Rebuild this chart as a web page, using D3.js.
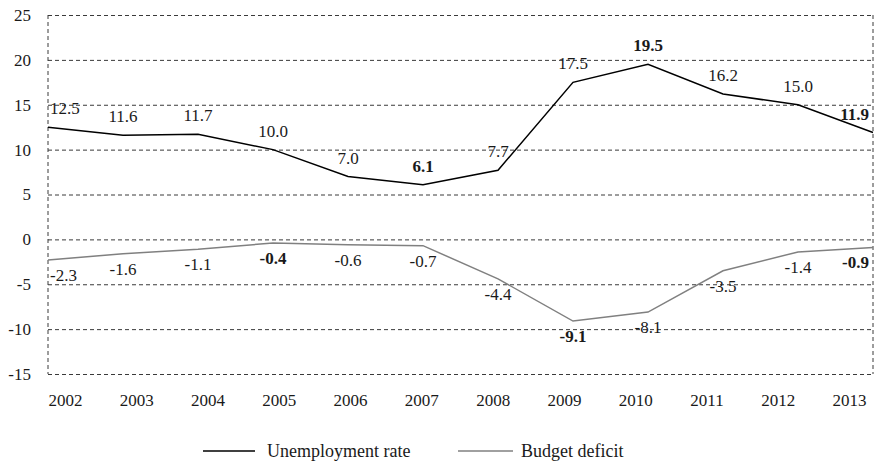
<!DOCTYPE html>
<html><head><meta charset="utf-8">
<script src="https://cdn.jsdelivr.net/npm/d3@7"></script>
<style>
html,body{margin:0;padding:0;background:#fff;}
svg text{font-family:"Liberation Serif","Times New Roman","DejaVu Serif",serif !important;}
</style></head>
<body><svg id="c" width="874" height="466" font-family="Liberation Serif, Times New Roman, serif"></svg>
<script>
const years = ["2002","2003","2004","2005","2006","2007","2008","2009","2010","2011","2012","2013"];
const unemployment = [12.5,11.6,11.7,10.0,7.0,6.1,7.7,17.5,19.5,16.2,15.0,11.9];
const deficit = [-2.3,-1.6,-1.1,-0.4,-0.6,-0.7,-4.4,-9.1,-8.1,-3.5,-1.4,-0.9];
const yTicks = [25,20,15,10,5,0,-5,-10,-15];
const seriesNames = ["Unemployment rate","Budget deficit"];

const FONT = "Liberation Serif";
const loc = d3.formatLocale({decimal: ".", thousands: ",", grouping: [3], currency: ["", ""], minus: "-"});
const f1 = loc.format(".1f"), fd = loc.format("d");

const svg = d3.select("#c");
const L = 48, R = 873, T = 15, B = 374;
const x = d3.scalePoint().domain(years).range([L, R]);
const xLab = d3.scalePoint().domain(years).range([65, 849]);
const y = d3.scaleLinear().domain([-15, 25]).range([B, T]);

const grid = "#3a3a3a";
const gy = d3.axisLeft(y).tickValues(yTicks).tickSize(-(R - L)).tickFormat("");
const gg = svg.append("g").attr("transform", `translate(${L},0)`).call(gy);
gg.select(".domain").remove();
gg.selectAll("line").attr("stroke", grid).attr("stroke-dasharray", "4,3").attr("stroke-width", 1);
[L, R].forEach(v => svg.append("line").attr("x1", v).attr("x2", v).attr("y1", T).attr("y2", B)
  .attr("stroke", grid).attr("stroke-dasharray", "4,3").attr("stroke-width", 1));

const ya = svg.append("g").attr("transform", `translate(31,0)`)
  .call(d3.axisLeft(y).tickValues(yTicks).tickSize(0).tickPadding(0).tickFormat(fd));
ya.attr("font-family", FONT);
ya.select(".domain").remove();
ya.selectAll("text").attr("font-size", 17).attr("fill", "#1a1a1a").attr("font-family", FONT);

const xa = svg.append("g").attr("transform", `translate(0,${B})`)
  .call(d3.axisBottom(xLab).tickSize(0).tickPadding(20));
xa.attr("font-family", FONT);
xa.select(".domain").remove();
xa.selectAll("text").attr("font-size", 17).attr("fill", "#1a1a1a").attr("font-family", FONT);

const line = d3.line().x((d, i) => x(years[i])).y(d => y(d));
const series = [
  {vals: unemployment, color: "#000000", dy: -13},
  {vals: deficit, color: "#808080", dy: 21}
];
series.forEach(s => {
  svg.append("path").datum(s.vals).attr("d", line).attr("fill", "none")
    .attr("stroke", s.color).attr("stroke-width", 1.5);
});
series.forEach(s => {
  const mx = d3.max(s.vals), mn = d3.min(s.vals);
  s.vals.forEach((v, i) => {
    const bold = (v === mx || v === mn || i === s.vals.length - 1);
    const t = svg.append("text").text(f1(v))
      .attr("x", x(years[i])).attr("y", y(v) + s.dy)
      .attr("text-anchor", "middle").attr("font-size", 17).attr("font-family", FONT)
      .attr("font-weight", bold ? "bold" : "normal").attr("fill", "#1a1a1a");
    const w = t.node().getComputedTextLength();
    let cx = x(years[i]);
    if (cx - w / 2 < L + 2) cx = L + 2 + w / 2;
    if (cx + w / 2 > R - 4) cx = R - 4 - w / 2;
    t.attr("x", cx);
  });
});

const lg = svg.append("g");
const legendItems = [
  {name: seriesNames[0], color: "#000000", x0: 203, x1: 255, tx: 267},
  {name: seriesNames[1], color: "#808080", x0: 458, x1: 513, tx: 521}
];
legendItems.forEach(it => {
  lg.append("line").attr("x1", it.x0).attr("x2", it.x1).attr("y1", 451).attr("y2", 451)
    .attr("stroke", it.color).attr("stroke-width", 1.5);
  lg.append("text").attr("x", it.tx).attr("y", 457).text(it.name)
    .attr("font-size", 18).attr("font-family", FONT).attr("fill", "#1a1a1a");
});
</script></body></html>
